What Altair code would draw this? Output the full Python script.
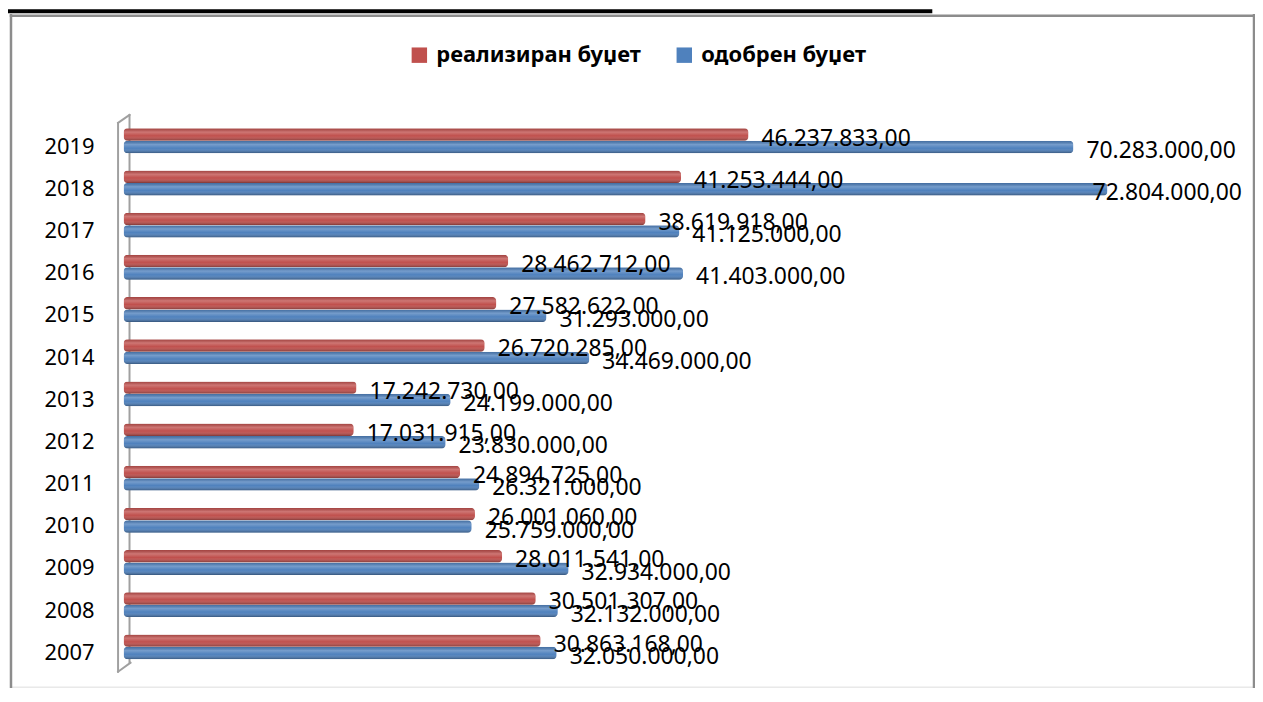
import altair as alt
import pandas as pd

years = ["2019", "2018", "2017", "2016", "2015", "2014", "2013",
         "2012", "2011", "2010", "2009", "2008", "2007"]
realized = [46237833, 41253444, 38619918, 28462712, 27582622, 26720285, 17242730,
            17031915, 24894725, 26001060, 28011541, 30501307, 30863168]
approved = [70283000, 72804000, 41125000, 41403000, 31293000, 34469000, 24199000,
            23830000, 26321000, 25759000, 32934000, 32132000, 32050000]
series = ["реализиран буџет", "одобрен буџет"]
colors = ["#c0504d", "#4f81bd"]

def fmt(v):
    s = f"{v:,.2f}"
    return s.replace(",", "X").replace(".", ",").replace("X", ".")

rows = []
for y, r, a in zip(years, realized, approved):
    rows.append({"year": y, "series": series[0], "value": r, "label": fmt(r)})
    rows.append({"year": y, "series": series[1], "value": a, "label": fmt(a)})
df = pd.DataFrame(rows)
ydf = pd.DataFrame({"year": years})
one = pd.DataFrame({"k": [0]})

W, H = 1248, 674
FONT = "Noto Sans"
LABEL_MAX = 70740000

x_scale = alt.Scale(domain=[0, 80000000], range=[113, 1198.6], nice=False, zero=True)
y_scale = alt.Scale(range=[104.8, 655.2], paddingInner=0.41, paddingOuter=0.205)
yo_scale = alt.Scale(paddingInner=0, paddingOuter=0)

Y = alt.Y("year:N", sort=years, scale=y_scale, axis=None)
YO = alt.YOffset("series:N", sort=series, scale=yo_scale)

# decorations
gray = "#8c8c8c"
wall = "#a0a0a0"
def rule(x, y, x2, y2, color, width):
    return alt.Chart(one).mark_rule(color=color, strokeWidth=width, strokeCap="square").encode(
        x=alt.value(x), y=alt.value(y), x2=alt.value(x2), y2=alt.value(y2))

deco = [
    rule(-3, -4, 923, -4, "#000000", 4),          # thick black line on top
    rule(0, 0.5, W, 0.5, gray, 2.5),              # frame top
    rule(0, 0, 0, H + 20, gray, 2.5),             # frame left
    rule(W, 0, W, H + 20, gray, 2.5),             # frame right
    rule(107.5, 108, 107.5, 659, wall, 2),        # wall back
    rule(119, 100, 119, 650, wall, 2),            # wall front
    rule(107.5, 108, 119, 100, wall, 2),          # wall top diag
    rule(107.5, 659, 120, 650, wall, 2),          # wall bottom diag
]

bars = alt.Chart(df).mark_bar(cornerRadius=4).encode(
    x=alt.X("value:Q", scale=x_scale, axis=None),
    y=Y, yOffset=YO,
    color=alt.Color("series:N", sort=series,
                    scale=alt.Scale(domain=series, range=colors),
                    legend=alt.Legend(
                        title=None, orient="none", legendX=399, legendY=29,
                        direction="horizontal", columns=2,
                        symbolType="square", symbolSize=240, symbolStrokeWidth=0,
                        labelFont=FONT, labelFontSize=22, labelFontWeight="bold",
                        labelColor="#000000", labelOffset=6, columnPadding=32,
                        labelLimit=400)),
)

shade = alt.Chart(df).mark_bar(
    cornerRadius=4,
    fill=alt.LinearGradient(
        gradient="linear", x1=0, y1=0, x2=0, y2=1,
        stops=[alt.GradientStop(color="rgba(0,0,0,0.15)", offset=0),
               alt.GradientStop(color="rgba(255,255,255,0.22)", offset=0.3),
               alt.GradientStop(color="rgba(255,255,255,0.0)", offset=0.6),
               alt.GradientStop(color="rgba(0,0,0,0.35)", offset=1)]),
).encode(
    x=alt.X("value:Q", scale=x_scale, axis=None),
    y=Y, yOffset=YO,
)

labels = alt.Chart(df).transform_calculate(
    lx=f"min(datum.value, {LABEL_MAX})"
).mark_text(align="left", baseline="middle", dx=13, dy=4,
            font=FONT, fontSize=23, color="#000000").encode(
    x=alt.X("lx:Q", scale=x_scale, axis=None),
    y=Y, yOffset=YO,
    text="label:N",
)

year_labels = alt.Chart(ydf).mark_text(align="right", baseline="middle", dy=6,
                                        font=FONT, fontSize=22, color="#000000").encode(
    x=alt.value(84),
    y=alt.Y("year:N", sort=years, scale=y_scale, axis=None),
    text="year:N",
)

chart = alt.layer(*deco, bars, shade, labels, year_labels).resolve_scale(
    y="shared"
).properties(
    width=W, height=H,
    autosize=alt.AutoSizeParams(type="none"),
    padding={"left": 3, "top": 6, "right": 1, "bottom": 0},
).configure_view(stroke=None).configure(background="#ffffff")

chart.save("out.html", embed_options={"renderer": "svg", "actions": False})
